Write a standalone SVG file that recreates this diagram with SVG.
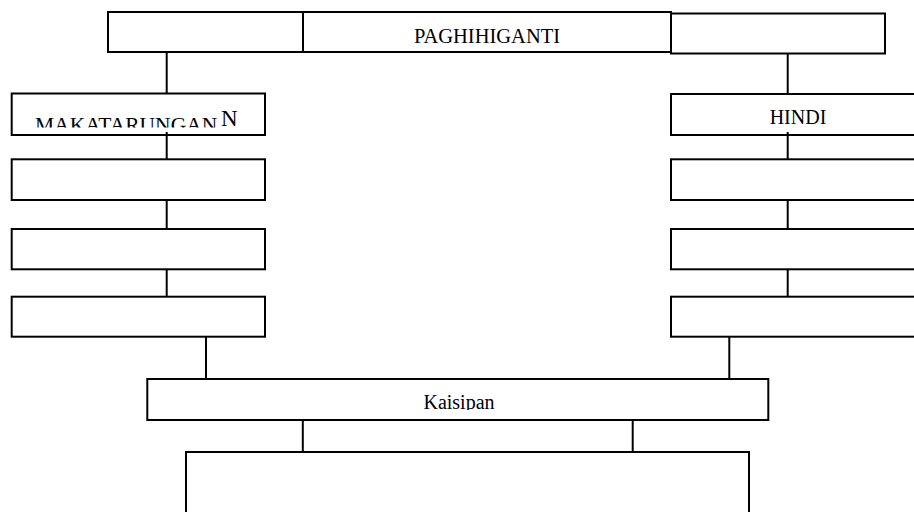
<svg xmlns="http://www.w3.org/2000/svg" width="914" height="512" viewBox="0 0 914 512">
<style>
.box{fill:#fff;stroke:#000;stroke-width:2}
.ln{stroke:#000;stroke-width:2;fill:none}
.t{font-family:"Liberation Serif","Times New Roman",serif;font-size:20px;fill:#000}
</style>
<defs>
<clipPath id="clipM"><rect x="0" y="100" width="300" height="27.5"/></clipPath>
<clipPath id="clipK"><rect x="140" y="385" width="640" height="25"/></clipPath>
</defs>
<rect width="914" height="512" fill="#fff"/>
<g id="connectors">
<line class="ln" x1="166.7" y1="49" x2="166.7" y2="94"/>
<line class="ln" x1="787.7" y1="50" x2="787.7" y2="95"/>
<line class="ln" x1="166.7" y1="132" x2="166.7" y2="160"/>
<line class="ln" x1="787.7" y1="132" x2="787.7" y2="160"/>
<line class="ln" x1="166.7" y1="200" x2="166.7" y2="229"/>
<line class="ln" x1="787.7" y1="200" x2="787.7" y2="229"/>
<line class="ln" x1="166.7" y1="269" x2="166.7" y2="297"/>
<line class="ln" x1="787.7" y1="269" x2="787.7" y2="297"/>
<line class="ln" x1="206" y1="337" x2="206" y2="379"/>
<line class="ln" x1="729.3" y1="337" x2="729.3" y2="379"/>
<line class="ln" x1="302.8" y1="420" x2="302.8" y2="452"/>
<line class="ln" x1="632.7" y1="420" x2="632.7" y2="452"/>
</g>
<g id="top-left"><rect class="box" x="108" y="12" width="195" height="40"/></g>
<g id="top-right"><rect class="box" x="671" y="13.5" width="214" height="40"/></g>
<g id="paghihiganti"><rect class="box" x="303" y="12" width="368" height="40"/><text class="t" x="487" y="42.7" text-anchor="middle" style="font-size:20.5px">PAGHIHIGANTI</text></g>
<g id="makatarungan"><rect class="box" x="11.7" y="93.5" width="253.3" height="41.5" fill-opacity="0"/>
<text class="t" x="35" y="132" clip-path="url(#clipM)" style="font-size:21.5px">MAKATARUNGAN</text>
<text class="t" x="221" y="126" style="font-size:23px">N</text></g>
<g id="hindi"><rect class="box" x="671" y="94" width="254" height="41" fill-opacity="0"/><text class="t" x="798" y="124" text-anchor="middle">HINDI</text></g>
<g id="left2"><rect class="box" x="11.7" y="159.3" width="253.3" height="40.7"/></g>
<g id="left3"><rect class="box" x="11.7" y="229" width="253.3" height="40.3"/></g>
<g id="left4"><rect class="box" x="11.7" y="296.7" width="253.3" height="40"/></g>
<g id="right2"><rect class="box" x="671" y="159.3" width="254" height="40.7"/></g>
<g id="right3"><rect class="box" x="671" y="229" width="254" height="40.3"/></g>
<g id="right4"><rect class="box" x="671" y="296.7" width="254" height="40"/></g>
<g id="kaisipan"><rect class="box" x="147.3" y="379" width="621" height="41"/><text class="t" x="459" y="408.5" text-anchor="middle" clip-path="url(#clipK)">Kaisipan</text></g>
<g id="bottom"><rect class="box" x="186" y="452" width="563" height="80"/></g>
</svg>
